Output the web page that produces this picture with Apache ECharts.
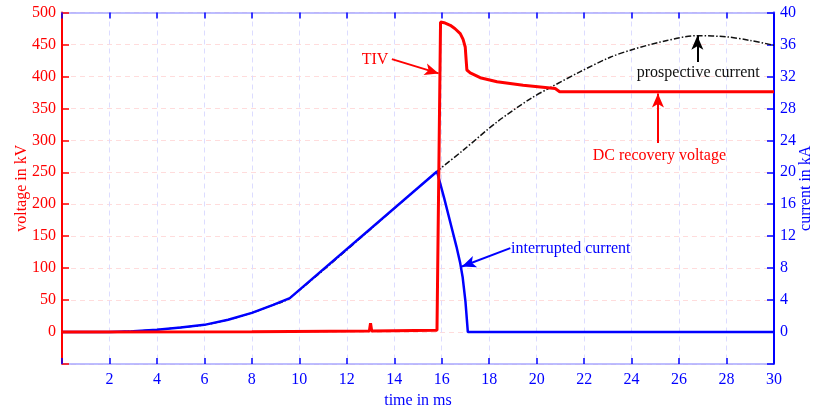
<!DOCTYPE html>
<html>
<head>
<meta charset="utf-8">
<script src="https://cdn.jsdelivr.net/npm/echarts@6/dist/echarts.min.js"></script>
<style>html,body{margin:0;padding:0;background:#fff}#c{width:821px;height:412px}</style>
</head>
<body>
<div id="c"></div>
<script>
// time in ms / current in kA / voltage in kV
const currentT = [0, 1, 2, 3, 4, 5, 6, 7, 8, 8.9, 9.6, 15.8, 16.1, 16.44, 16.62, 16.78, 16.88, 17.0, 17.1, 30];
const currentI = [0, 0, 0, 0.1, 0.29, 0.58, 0.9, 1.54, 2.4, 3.4, 4.25, 20.1, 16.8, 12.8, 10.7, 8.6, 6.9, 3.8, 0, 0];

const prospT = [0, 1, 2, 3, 4, 5, 6, 7, 8, 8.9, 9.6, 15.8, 16.92, 18.33, 19.73, 20.57, 21.84, 23.1, 24.08, 25.49, 26.75, 28.02, 29.0, 30];
const prospI = [0, 0, 0, 0.1, 0.29, 0.58, 0.9, 1.54, 2.4, 3.4, 4.25, 20.1, 22.8, 26.3, 29.2, 30.6, 32.6, 34.4, 35.4, 36.5, 37.1, 36.95, 36.5, 35.9];

const voltT = [0, 8, 12.95, 13.0, 13.05, 15.8, 15.95, 16.1, 16.36, 16.55, 16.78, 16.9, 16.99, 17.03, 17.06, 17.2, 17.62, 18.33, 19.43, 20.57, 20.78, 20.97, 30];
const voltV = [0, 0.5, 1.5, 14, 1.5, 3, 485, 484, 480, 475, 467, 458, 446, 425, 410, 405.6, 398, 391.6, 386, 382, 381, 376, 376];

const xTicks = [2, 4, 6, 8, 10, 12, 14, 16, 18, 20, 22, 24, 26, 28, 30];

const FONT = 'Liberation Serif';
const zip = (a, b) => a.map((v, i) => [v, b[i]]);

const chart = echarts.init(document.getElementById('c'), null, {renderer: 'canvas'});

function txt(coord, text, color, align) {
  return {
    coord: coord, symbol: 'circle', symbolSize: 1,
    itemStyle: {color: 'rgba(0,0,0,0)'},
    label: {show: true, formatter: text, position: 'inside', color: color,
            fontSize: 16, fontFamily: FONT, align: align || 'center', verticalAlign: 'middle'}
  };
}
function arrow(from, to, color) {
  return {
    silent: true, symbol: ['none', 'arrow'], symbolSize: [9, 14],
    lineStyle: {color: color, width: 2, type: 'solid'},
    label: {show: false}, emphasis: {disabled: true},
    data: [[{coord: from}, {coord: to}]]
  };
}

chart.setOption({
  animation: false,
  grid: {left: 62, right: 47, top: 12.5, bottom: 48, containLabel: false, outerBoundsMode: 'none'},
  xAxis: [{
    type: 'value', min: 0, max: 30, interval: 2, position: 'bottom',
    name: 'time in ms', nameLocation: 'middle', nameGap: 28,
    nameTextStyle: {color: '#0000ff', fontSize: 16, fontFamily: FONT},
    axisLine: {show: true, onZero: false, lineStyle: {color: '#a8a8ff', width: 1.5}},
    axisTick: {show: true, inside: true, length: 6, lineStyle: {color: '#0000ff', width: 1.5}},
    axisLabel: {color: '#0000ff', fontSize: 16, fontFamily: FONT, margin: 8,
      formatter: v => xTicks.includes(v) ? String(v) : ''},
    splitLine: {show: true, lineStyle: {color: '#dcdcff', type: [5, 4], width: 1}}
  }, {
    type: 'value', min: 0, max: 30, interval: 2, position: 'top',
    axisLine: {show: true, onZero: false, lineStyle: {color: '#a8a8ff', width: 1.5}},
    axisTick: {show: true, inside: true, length: 6, lineStyle: {color: '#0000ff', width: 1.5}},
    axisLabel: {show: false}, splitLine: {show: false}
  }],
  yAxis: [{
    type: 'value', min: -50, max: 500, interval: 50, position: 'left',
    name: 'voltage in kV', nameLocation: 'middle', nameGap: 32, nameRotate: 90,
    nameMoveOverlap: false,
    nameTextStyle: {color: '#ff0000', fontSize: 16, fontFamily: FONT},
    axisLine: {show: true, onZero: false, lineStyle: {color: '#ff0000', width: 2}},
    axisTick: {show: true, inside: true, length: 7, lineStyle: {color: '#ff0000', width: 1.5}},
    axisLabel: {color: '#ff0000', fontSize: 16, fontFamily: FONT, margin: 6,
      formatter: v => v < 0 ? '' : String(v)},
    splitLine: {show: true, lineStyle: {color: '#ffdcdc', type: [5, 4], width: 1}}
  }, {
    type: 'value', min: -4, max: 40, interval: 4, position: 'right',
    name: 'current in kA', nameLocation: 'middle', nameGap: 24, nameRotate: 90,
    nameMoveOverlap: false,
    nameTextStyle: {color: '#0000ff', fontSize: 16, fontFamily: FONT},
    axisLine: {show: true, onZero: false, lineStyle: {color: '#0000ff', width: 2}},
    axisTick: {show: true, inside: true, length: 7, lineStyle: {color: '#0000ff', width: 1.5}},
    axisLabel: {color: '#0000ff', fontSize: 16, fontFamily: FONT, margin: 6,
      formatter: v => v < 0 ? '' : String(v)},
    splitLine: {show: false}
  }],
  series: [{
    name: 'prospective current', type: 'line', yAxisIndex: 1, xAxisIndex: 0,
    data: zip(prospT, prospI), smooth: 0.3, showSymbol: false, z: 2,
    lineStyle: {color: '#111', width: 1.5, type: [6, 2, 1.5, 2]},
    markLine: arrow([26.77, 33.8], [26.77, 37.1], '#000'),
    markPoint: {silent: true, data: [txt([26.81, 32.4], 'prospective current', '#111')]}
  }, {
    name: 'interrupted current', type: 'line', yAxisIndex: 1, xAxisIndex: 0,
    data: zip(currentT, currentI), showSymbol: false, z: 3,
    lineStyle: {color: '#0000ff', width: 2.5},
    markLine: arrow([18.89, 10.5], [16.85, 8.2], '#0000ff'),
    markPoint: {silent: true, data: [txt([18.92, 10.4], 'interrupted current', '#0000ff', 'left')]}
  }, {
    name: 'voltage', type: 'line', yAxisIndex: 0, xAxisIndex: 0,
    data: zip(voltT, voltV), showSymbol: false, z: 4,
    lineStyle: {color: '#ff0000', width: 3},
    markLine: {
      silent: true, symbol: ['none', 'arrow'], symbolSize: [9, 14],
      lineStyle: {color: '#ff0000', width: 2, type: 'solid'},
      label: {show: false}, emphasis: {disabled: true},
      data: [[{coord: [13.9, 427]}, {coord: [15.87, 404.7]}],
             [{coord: [25.11, 295.8]}, {coord: [25.11, 373.4]}]]
    },
    markPoint: {silent: true, data: [
      txt([13.19, 425.5], 'TIV', '#ff0000'),
      txt([25.17, 275.5], 'DC recovery voltage', '#ff0000')
    ]}
  }]
});
</script>
</body>
</html>
